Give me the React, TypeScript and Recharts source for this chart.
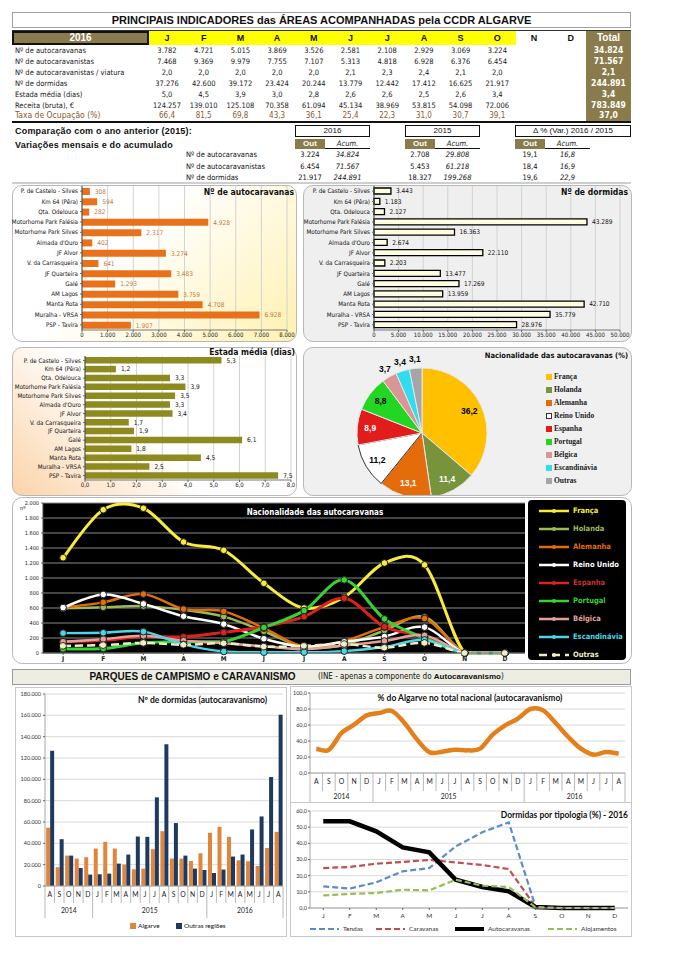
import React from 'react';
import {
  BarChart,
  Bar,
  XAxis,
  YAxis,
  CartesianGrid,
  LabelList,
  PieChart,
  Pie,
  Cell,
  LineChart,
  Line,
} from 'recharts';

// ---------- quadro principal 2016 ----------
const tableMonths = ['J', 'F', 'M', 'A', 'M', 'J', 'J', 'A', 'S', 'O', 'N', 'D'];
const rowLabels = [
  'Nº de autocaravanas',
  'Nº de autocaravanistas',
  'Nº de autocaravanistas / viatura',
  'Nº de dormidas',
  'Estada média (dias)',
  'Receita (bruta), €',
  'Taxa de Ocupação (%)',
];
const autocaravanasMes = [3782, 4721, 5015, 3869, 3526, 2581, 2108, 2929, 3069, 3224];
const autocaravanistasMes = [7468, 9369, 9979, 7755, 7107, 5313, 4818, 6928, 6376, 6454];
const porViaturaMes = [2.0, 2.0, 2.0, 2.0, 2.0, 2.1, 2.3, 2.4, 2.1, 2.0];
const dormidasMes = [37276, 42600, 39172, 23424, 20244, 13779, 12442, 17412, 16625, 21917];
const estadaMes = [5.0, 4.5, 3.9, 3.0, 2.8, 2.6, 2.6, 2.5, 2.6, 3.4];
const receitaMes = [124257, 139010, 125108, 70358, 61094, 45134, 38969, 53815, 54098, 72006];
const taxaMes = [66.4, 81.5, 69.8, 43.3, 36.1, 25.4, 22.3, 31.0, 30.7, 39.1];
const totais = [34824, 71567, 2.1, 244891, 3.4, 783849, 37.0];

// ---------- comparação 2015 ----------
const compLabels = ['Nº de autocaravanas', 'Nº de autocaravanistas', 'Nº de dormidas'];
const out2016 = [3224, 6454, 21917];
const acum2016 = [34824, 71567, 244891];
const out2015 = [2708, 5453, 18327];
const acum2015 = [29808, 61218, 199268];
const varOut = [19.1, 18.4, 19.6];
const varAcum = [16.8, 16.9, 22.9];

// ---------- áreas ----------
const sites = [
  'P. de Castelo - Silves',
  'Km 64 (Pêra)',
  'Qta. Odelouca',
  'Motorhome Park Falésia',
  'Motorhome Park Silves',
  "Almada d'Ouro",
  'JF Alvor',
  'V. da Carrasqueira',
  'JF Quarteira',
  'Galé',
  'AM Lagos',
  'Manta Rota',
  'Muralha - VRSA',
  'PSP - Tavira',
];
const siteAutocaravanas = [308, 594, 282, 4928, 2317, 402, 3274, 641, 3483, 1293, 3759, 4708, 6928, 1907];
const siteDormidas = [3443, 1183, 2127, 43289, 16363, 2674, 22110, 2203, 13477, 17269, 13959, 42710, 35779, 28976];
const siteEstada = [5.3, 1.2, 3.3, 3.9, 3.5, 3.3, 3.4, 1.7, 1.9, 6.1, 1.8, 4.5, 2.5, 7.5];
const ticksAuto = [0, 1000, 2000, 3000, 4000, 5000, 6000, 7000, 8000];
const ticksDorm = [0, 5000, 10000, 15000, 20000, 25000, 30000, 35000, 40000, 45000, 50000];
const ticksEstada = [0, 1, 2, 3, 4, 5, 6, 7, 8];

// ---------- nacionalidades ----------
const nacoes = ['França', 'Holanda', 'Alemanha', 'Reino Unido', 'Espanha', 'Portugal', 'Bélgica', 'Escandinávia', 'Outras'];
const nacoesPct = [36.2, 11.4, 13.1, 11.2, 8.9, 8.8, 3.7, 3.4, 3.1];
const pieColors = ['#FFC000', '#77933C', '#E46C0A', '#FFFFFF', '#E21B1B', '#22D622', '#D99694', '#2FDDEE', '#A5A5A5'];
const pieLabelColors = ['#000', '#fff', '#fff', '#000', '#fff', '#000', '#000', '#000', '#000'];

const francaMes = [1270, 1910, 1930, 1480, 1370, 930, 600, 745, 1200, 1175, 0, 0];
const holandaMes = [595, 610, 625, 575, 485, 290, 80, 110, 300, 480, 0, 0];
const alemanhaMes = [605, 675, 785, 585, 555, 330, 85, 160, 345, 460, 0, 0];
const reinoUnidoMes = [605, 780, 655, 490, 385, 190, 85, 150, 220, 345, 0, 0];
const espanhaMes = [150, 170, 220, 215, 275, 350, 485, 730, 350, 220, 0, 0];
const portugalMes = [55, 60, 135, 150, 150, 340, 565, 975, 455, 200, 0, 0];
const belgicaMes = [150, 185, 230, 165, 130, 90, 50, 100, 160, 235, 0, 0];
const escandinaviaMes = [265, 270, 285, 115, 20, 10, 10, 25, 80, 175, 0, 0];
const outrasMes = [95, 105, 135, 110, 130, 85, 95, 120, 70, 135, 0, 0];
const nacoesMes = [francaMes, holandaMes, alemanhaMes, reinoUnidoMes, espanhaMes, portugalMes, belgicaMes, escandinaviaMes, outrasMes];
const lineColors = ['#F7EC3B', '#9BBB59', '#E46C0A', '#FFFFFF', '#E3211C', '#35D335', '#E6A09C', '#4BD7E6', '#F2EDC4'];
const legendTextColors = ['#F7EC3B', '#9BBB59', '#E46C0A', '#FFFFFF', '#C8302B', '#35D335', '#E6A09C', '#4BD7E6', '#F2EDC4'];
const ticksNacoes = [0, 200, 400, 600, 800, 1000, 1200, 1400, 1600, 1800, 2000];

// ---------- INE parques de campismo ----------
const periodMonths = ['A', 'S', 'O', 'N', 'D', 'J', 'F', 'M', 'A', 'M', 'J', 'J', 'A', 'S', 'O', 'N', 'D', 'J', 'F', 'M', 'A', 'M', 'J', 'J', 'A'];
const periodYears = [
  '2014', '2014', '2014', '2014', '2014',
  '2015', '2015', '2015', '2015', '2015', '2015', '2015', '2015', '2015', '2015', '2015', '2015',
  '2016', '2016', '2016', '2016', '2016', '2016', '2016', '2016',
];
const dormidasAlgarve = [54600, 17600, 28500, 25700, 27000, 35100, 41400, 35100, 20100, 15700, 16300, 34500, 51400, 25700, 25700, 23500, 30700, 49900, 55500, 46100, 24100, 23200, 18800, 35700, 50800];
const dormidasOutras = [126700, 43900, 28500, 16900, 10700, 11000, 11600, 21000, 29500, 46400, 46100, 83100, 133000, 59000, 28500, 16300, 15000, 12200, 15400, 27600, 29500, 53000, 65200, 102200, 160600];
const pctAlgarve = [30.4, 29.0, 50.0, 60.4, 72.0, 75.0, 77.5, 62.5, 41.7, 25.8, 26.7, 29.0, 28.3, 30.4, 48.0, 59.6, 68.0, 80.0, 78.3, 62.5, 45.0, 30.4, 23.0, 26.2, 24.2];
const ticksDormINE = [0, 20000, 40000, 60000, 80000, 100000, 120000, 140000, 160000, 180000];
const ticksPct = [0, 20, 40, 60, 80, 100];

// ---------- tipologia 2016 ----------
const tendas = [13.4, 12.0, 15.9, 22.7, 24.7, 38.1, 46.8, 53.0, 1.4, 0, 0, 0];
const caravanas = [24.7, 25.4, 27.4, 28.5, 29.7, 28.2, 26.6, 24.1, 1.0, 0, 0, 0];
const autocaravanasTip = [53.6, 53.6, 47.4, 37.5, 34.4, 17.5, 13.0, 10.3, 0.6, 0, 0, 0];
const alojamentos = [7.8, 8.7, 9.3, 11.3, 10.9, 17.5, 13.8, 13.0, 0.6, 0, 0, 0];
const ticksTip = [0, 10, 20, 30, 40, 50, 60];

const NARROW = "'Liberation Sans Narrow','DejaVu Sans Condensed',Arial,sans-serif";
const SANS = "'Liberation Sans',Arial,sans-serif";
const CAL = "Lato,'Open Sans',sans-serif";
const SERIF = "'Liberation Serif','DejaVu Serif',serif";
const OLIVE = '#8a7b4c';

const th = (n: number) => Math.round(n).toString().replace(/\B(?=(\d{3})+(?!\d))/g, '.');
const dec = (n: number) => Number(n).toFixed(1).replace('.', ',');

// curva suavizada tipo Excel (bezier com 1/6 dos vizinhos); troços planos ficam retos
function excelSmooth(context: any) {
  let pts: number[][] = [];
  return {
    areaStart() {},
    areaEnd() {},
    lineStart() {
      pts = [];
    },
    point(x: number, y: number) {
      pts.push([+x, +y]);
    },
    lineEnd() {
      if (!pts.length) return;
      context.moveTo(pts[0][0], pts[0][1]);
      for (let i = 0; i < pts.length - 1; i++) {
        const p0 = pts[i - 1] || pts[i];
        const p1 = pts[i];
        const p2 = pts[i + 1];
        const p3 = pts[i + 2] || p2;
        if (Math.abs(p1[1] - p2[1]) < 0.01) {
          context.lineTo(p2[0], p2[1]);
          continue;
        }
        context.bezierCurveTo(
          p1[0] + (p2[0] - p0[0]) / 6,
          p1[1] + (p2[1] - p0[1]) / 6,
          p2[0] - (p3[0] - p1[0]) / 6,
          p2[1] - (p3[1] - p1[1]) / 6,
          p2[0],
          p2[1]
        );
      }
    },
  };
}

const abs = (left: number, top: number, width: number, height: number): React.CSSProperties => ({
  position: 'absolute',
  left,
  top,
  width,
  height,
  boxSizing: 'border-box',
});

const colCenter = (i: number) => 167 + i * 36.7;

function MainTable() {
  const rows = [autocaravanasMes, autocaravanistasMes, porViaturaMes, dormidasMes, estadaMes, receitaMes, taxaMes];
  const isDec = [false, false, true, false, true, false, true];
  return (
    <>
      <div style={{ ...abs(12, 12, 619, 16), border: '1px solid #a0a0a0', textAlign: 'center', font: `bold 11px ${SANS}`, lineHeight: '14px' }}>
        PRINCIPAIS INDICADORES das ÁREAS ACOMPANHADAS pela CCDR ALGARVE
      </div>
      <div style={{ ...abs(12, 30, 619, 1), background: '#333' }} />
      <div style={{ ...abs(12, 31, 137, 14), background: OLIVE, border: '2px solid #111', color: '#fff', textAlign: 'center', font: `bold 10px ${SANS}`, lineHeight: '10px' }}>
        2016
      </div>
      <div style={{ ...abs(149, 31, 367, 14), background: '#FFFF00' }} />
      {tableMonths.map((m, i) => (
        <div key={'h' + i} style={{ ...abs(colCenter(i) - 15, 31, 30, 14), textAlign: 'center', font: `bold 9px ${SANS}`, lineHeight: '14px' }}>
          {m}
        </div>
      ))}
      <div style={{ ...abs(586, 31, 45, 14), background: OLIVE, color: '#fff', textAlign: 'center', font: `bold 10px ${SANS}`, lineHeight: '14px' }}>
        Total
      </div>
      <div style={{ ...abs(586, 45, 45, 76), background: OLIVE }} />
      {rowLabels.map((lab, r) => {
        const top = 45 + r * 10.9;
        const color = r === 6 ? '#8B5A2B' : '#1a1a1a';
        return (
          <React.Fragment key={'r' + r}>
            <div style={{ ...abs(15, top, 150, 11), font: `${r === 6 ? 8.5 : 7.5}px ${NARROW}`, lineHeight: '11px', color, whiteSpace: 'nowrap' }}>{lab}</div>
            {rows[r].map((v, i) => (
              <div key={i} style={{ ...abs(colCenter(i) - 18, top, 36, 11), textAlign: 'center', font: `${r === 6 ? 8 : 7.5}px ${NARROW}`, lineHeight: '11px', color }}>
                {isDec[r] ? dec(v) : th(v)}
              </div>
            ))}
            <div style={{ ...abs(586, top, 45, 11), textAlign: 'center', color: '#fff', font: `bold 8.5px ${NARROW}`, lineHeight: '11px' }}>
              {isDec[r] ? dec(totais[r]) : th(totais[r])}
            </div>
          </React.Fragment>
        );
      })}
      <div style={{ ...abs(12, 121, 619, 2), background: '#111' }} />
    </>
  );
}

function CompBlock({ left, title, w, outs, acums, fmt }: any) {
  return (
    <>
      <div style={{ ...abs(left, 125, w, 12), border: '1px solid #111', textAlign: 'center', font: `8px ${SANS}`, lineHeight: '10px', background: '#fff' }}>{title}</div>
      <div style={{ ...abs(left, 139, 30, 10), background: OLIVE, color: '#fff', textAlign: 'center', font: `bold 8px ${SANS}`, lineHeight: '10px' }}>Out</div>
      <div style={{ ...abs(left + 30, 139, 45, 10), borderBottom: '1px solid #111', textAlign: 'center', font: `italic 7.5px ${NARROW}`, lineHeight: '10px' }}>Acum.</div>
      {outs.map((v: number, i: number) => (
        <React.Fragment key={i}>
          <div style={{ ...abs(left, 149 + i * 11.5, 30, 11), textAlign: 'center', font: `7.5px ${NARROW}`, lineHeight: '11px' }}>{fmt(v)}</div>
          <div style={{ ...abs(left + 30, 149 + i * 11.5, 45, 11), textAlign: 'center', font: `italic 7.5px ${NARROW}`, lineHeight: '11px' }}>{fmt(acums[i])}</div>
        </React.Fragment>
      ))}
    </>
  );
}

function Comparison() {
  return (
    <>
      <div style={{ ...abs(15, 125, 280, 13), font: `900 9px ${SANS}`, lineHeight: '13px', letterSpacing: 0.2 }}>Comparação com o ano anterior (2015):</div>
      <div style={{ ...abs(15, 139, 280, 13), font: `900 9px ${SANS}`, lineHeight: '13px', letterSpacing: 0.2 }}>Variações mensais e do acumulado</div>
      {compLabels.map((l, i) => (
        <div key={l} style={{ ...abs(186, 149 + i * 11.5, 110, 11), font: `7.5px ${NARROW}`, lineHeight: '11px', whiteSpace: 'nowrap' }}>{l}</div>
      ))}
      <CompBlock left={295} w={75} title="2016" outs={out2016} acums={acum2016} fmt={th} />
      <CompBlock left={405} w={75} title="2015" outs={out2015} acums={acum2015} fmt={th} />
      <CompBlock left={515} w={116} title="Δ % (Var.) 2016 / 2015" outs={varOut} acums={varAcum} fmt={dec} />
      <div style={{ ...abs(12, 182, 619, 2), background: '#cfcfcf' }} />
    </>
  );
}

const siteTick = (p: any) => (
  <text x={p.x} y={p.y} dy={2.2} textAnchor="end" fontSize={6.2} fontFamily={NARROW} fill="#111">
    {p.payload.value}
  </text>
);

function HBar({ values, ticks, fmt, tickFmt, fill, stroke, labelColor, barSize, w, h, yw, margin }: any) {
  const data = sites.map((s, i) => ({ site: s, v: values[i] }));
  return (
    <BarChart width={w} height={h} layout="vertical" data={data} margin={margin} barCategoryGap={2}>
      <CartesianGrid horizontal={false} stroke="#d2d2d2" />
      <XAxis
        type="number"
        domain={[ticks[0], ticks[ticks.length - 1]]}
        ticks={ticks}
        interval={0}
        tickFormatter={tickFmt}
        tick={{ fontSize: 6, fontFamily: NARROW, fill: '#222' }}
        height={12}
        tickSize={2}
        tickMargin={1}
        axisLine={{ stroke: '#777' }}
      />
      <YAxis type="category" dataKey="site" width={yw} tick={siteTick} interval={0} tickSize={2} tickMargin={2} axisLine={{ stroke: '#444' }} />
      <Bar dataKey="v" fill={fill} stroke={stroke} strokeWidth={stroke ? 1.3 : 0} barSize={barSize} isAnimationActive={false}>
        <LabelList dataKey="v" position="right" offset={5} formatter={(v: any) => fmt(Number(v))} fontSize={6.5} fontFamily={NARROW} fill={labelColor} />
      </Bar>
    </BarChart>
  );
}

const RAD = Math.PI / 180;
const pieLabel = (p: any) => {
  const small = p.value < 5;
  const r = small ? p.outerRadius + 9 : p.outerRadius * 0.8;
  const x = p.cx + r * Math.cos(-p.midAngle * RAD);
  const y = p.cy + r * Math.sin(-p.midAngle * RAD);
  return (
    <text x={x} y={y} fill={pieLabelColors[p.index]} textAnchor="middle" dominantBaseline="central" fontSize={8.5} fontWeight="bold" fontFamily={SANS}>
      {dec(p.value)}
    </text>
  );
};

function NacoesLegend() {
  return (
    <div style={{ ...abs(528, 500, 98, 160), background: '#000', borderRadius: 4 }}>
      {nacoes.map((n, i) => (
        <div key={n} style={{ ...abs(10, 5 + i * 18, 90, 12) }}>
          <svg width={32} height={12} style={{ position: 'absolute', left: 0, top: 0 }}>
            <line x1={1} x2={31} y1={6} y2={6} stroke={lineColors[i]} strokeWidth={2.5} strokeDasharray={i === 8 ? '8 5' : undefined} />
            <circle cx={16} cy={6} r={2} fill={lineColors[i]} />
          </svg>
          <div style={{ ...abs(35, 0, 60, 12), color: legendTextColors[i], font: `bold 7.5px ${NARROW}`, lineHeight: '12px', whiteSpace: 'nowrap' }}>{n}</div>
        </div>
      ))}
    </div>
  );
}

function makePeriodTick(band: number, rowH: number, yearH: number, fs: number) {
  return (props: any) => {
    const { x, y, payload } = props;
    const i: number = Number(payload.value);
    const yr = periodYears[i];
    const isStart = i === 0 || periodYears[i - 1] !== yr;
    const isEnd = i === periodYears.length - 1;
    const count = periodYears.filter((v) => v === yr).length;
    const left = x - band / 2;
    return (
      <g>
        <line x1={left} x2={left} y1={y} y2={y + rowH + (isStart ? yearH : 0)} stroke="#a6a6a6" strokeWidth={0.8} />
        {isEnd && <line x1={x + band / 2} x2={x + band / 2} y1={y} y2={y + rowH + yearH} stroke="#a6a6a6" strokeWidth={0.8} />}
        <text x={x} y={y + rowH / 2 + fs * 0.36} textAnchor="middle" fontSize={fs} fontFamily={CAL} fill="#222">
          {periodMonths[i]}
        </text>
        {isStart && (
          <text x={left + (count * band) / 2} y={y + rowH + yearH / 2 + fs * 0.36} textAnchor="middle" fontSize={fs} fontFamily={CAL} fill="#222">
            {yr}
          </text>
        )}
      </g>
    );
  };
}

export default function App() {
  const nacoesData = tableMonths.map((m, i) => {
    const row: any = { i };
    nacoes.forEach((n, k) => {
      row[n] = nacoesMes[k][i];
    });
    return row;
  });
  const pieData = nacoes.map((n, i) => ({ name: n, value: nacoesPct[i] }));
  const ineData = periodMonths.map((m, i) => ({ i, algarve: dormidasAlgarve[i], outras: dormidasOutras[i], pct: pctAlgarve[i] }));
  const tipData = tableMonths.map((m, i) => ({ i, tendas: tendas[i], caravanas: caravanas[i], auto: autocaravanasTip[i], aloj: alojamentos[i] }));

  const fBand = (283 - 45) / periodMonths.length;
  const gBand = (625 - 310) / periodMonths.length;
  const eBand = (525 - 43) / tableMonths.length;
  const hBand = (628 - 310) / tableMonths.length;

  return (
    <div style={{ position: 'absolute', left: 0, top: 0, width: 677, height: 958, background: '#fff', overflow: 'hidden', fontFamily: SANS, color: '#111' }}>
      <MainTable />
      <Comparison />

      {/* Nº de autocaravanas */}
      <div style={{ ...abs(12, 185, 285, 157), border: '1px solid #b8b8b8', borderRadius: 10, background: 'linear-gradient(135deg,#ffffff 40%,#fff1b0 100%)' }} />
      <div style={abs(12, 184, 285, 158)}>
        <HBar values={siteAutocaravanas} ticks={ticksAuto} fmt={th} tickFmt={th} fill="#E8721C" labelColor="#c4793f" barSize={7} w={285} h={158} yw={70} margin={{ top: 2, right: 10, left: 0, bottom: 0 }} />
      </div>
      <div style={{ ...abs(190, 187, 104, 11), textAlign: 'right', font: `bold 8.5px ${NARROW}`, lineHeight: '11px' }}>Nº de autocaravanas</div>

      {/* Nº de dormidas */}
      <div style={{ ...abs(303, 185, 329, 157), border: '1px solid #b8b8b8', borderRadius: 10, background: '#efefef' }} />
      <div style={abs(303, 184, 329, 158)}>
        <HBar values={siteDormidas} ticks={ticksDorm} fmt={th} tickFmt={th} fill="#FFFDE0" stroke="#000" labelColor="#111" barSize={6} w={329} h={158} yw={71} margin={{ top: 2, right: 12, left: 0, bottom: 0 }} />
      </div>
      <div style={{ ...abs(520, 187, 108, 11), textAlign: 'right', font: `bold 8.5px ${NARROW}`, lineHeight: '11px' }}>Nº de dormidas</div>

      {/* Estada média */}
      <div style={{ ...abs(12, 347, 285, 149), border: '1px solid #b8b8b8', borderRadius: 10, background: 'linear-gradient(45deg,#fbd3a8 0%,#ffffff 45%)' }} />
      <div style={abs(12, 348, 285, 144)}>
        <HBar values={siteEstada} ticks={ticksEstada} fmt={dec} tickFmt={dec} fill="#8d8a1f" labelColor="#111" barSize={6.5} w={285} h={144} yw={73} margin={{ top: 8, right: 6, left: 0, bottom: 0 }} />
      </div>
      <div style={{ ...abs(200, 347, 95, 10), textAlign: 'right', font: `bold 8.5px ${NARROW}`, lineHeight: '10px' }}>Estada média (dias)</div>

      {/* Nacionalidade (%) */}
      <div style={{ ...abs(303, 347, 329, 149), border: '1px solid #b8b8b8', borderRadius: 10, background: '#f0f0f0' }} />
      <div style={abs(303, 347, 329, 148)}>
        <PieChart width={329} height={148}>
          <Pie data={pieData} dataKey="value" cx={114} cy={81} outerRadius={65} startAngle={90} endAngle={-270} label={pieLabel} labelLine={false} isAnimationActive={false}>
            {pieData.map((d, i) => (
              <Cell key={d.name} fill={pieColors[i]} stroke={i === 3 ? '#333' : '#e8e8e8'} strokeWidth={1} />
            ))}
          </Pie>
        </PieChart>
      </div>
      <div style={{ ...abs(470, 350, 158, 11), textAlign: 'right', font: `bold 7.5px ${NARROW}`, lineHeight: '11px' }}>Nacionalidade das autocaravanas (%)</div>
      {nacoes.map((n, i) => (
        <div key={n} style={{ ...abs(546, 371 + i * 13, 80, 12) }}>
          <div style={{ ...abs(0, 3, 6, 6), background: pieColors[i], border: i === 3 ? '1px solid #333' : 'none' }} />
          <div style={{ ...abs(8, 0, 72, 12), font: `bold 7.5px ${SERIF}`, lineHeight: '12px', color: '#222' }}>{n}</div>
        </div>
      ))}

      {/* Nacionalidade das autocaravanas - linhas */}
      <div style={{ ...abs(12, 497, 620, 167), border: '1px solid #b8b8b8', borderRadius: 10, background: '#fff' }} />
      <div style={abs(12, 497, 516, 166)}>
        <LineChart width={516} height={166} data={nacoesData} margin={{ top: 6, right: 3, left: 0, bottom: 0 }}>
          <CartesianGrid vertical={false} stroke="#8a8a8a" fill="#000" fillOpacity={1} />
          <XAxis dataKey="i" type="category" interval={0} padding={{ left: eBand / 2, right: eBand / 2 }} tickFormatter={(v: any) => tableMonths[v]} tick={{ fontSize: 6.5, fontFamily: NARROW, fontWeight: 'bold', fill: '#222' }} height={10} tickSize={2} tickMargin={1} axisLine={{ stroke: '#444' }} />
          <YAxis domain={[0, 2000]} ticks={ticksNacoes} interval={0} tickFormatter={th} tick={{ fontSize: 5.5, fontFamily: NARROW, fill: '#222' }} width={31} tickSize={2} tickMargin={2} axisLine={{ stroke: '#444' }} />
          {nacoes.map((n, k) => (
            <Line
              key={n}
              dataKey={n}
              type={excelSmooth as any}
              stroke={lineColors[k]}
              strokeWidth={k === 0 || k === 5 || k === 4 ? 3 : 2.5}
              strokeDasharray={k === 8 ? '8 4' : undefined}
              dot={{ r: 3.3, fill: lineColors[k], stroke: '#222', strokeWidth: 1 }}
              activeDot={false}
              isAnimationActive={false}
            />
          ))}
        </LineChart>
      </div>
      <div style={{ ...abs(20, 504, 12, 8), font: `5.5px ${NARROW}`, lineHeight: '8px' }}>nº</div>
      <div style={{ ...abs(230, 507, 170, 12), textAlign: 'center', color: '#fff', font: `bold 8px ${NARROW}`, lineHeight: '12px' }}>Nacionalidade das autocaravanas</div>
      <NacoesLegend />

      {/* Parques de campismo */}
      <div style={{ ...abs(12, 669, 619, 16), background: '#eeede3', border: '1px solid #9a9a9a' }} />
      <div style={{ ...abs(70, 669, 245, 16), textAlign: 'center', font: `900 10px ${SANS}`, lineHeight: '16px' }}>PARQUES de CAMPISMO e CARAVANISMO</div>
      <div style={{ ...abs(318, 669, 260, 16), font: `8px ${NARROW}`, lineHeight: '16px', whiteSpace: 'nowrap' }}>
        (INE - apenas a componente do <span style={{ fontFamily: SANS, fontWeight: 900 }}>Autocaravanismo</span>)
      </div>

      {/* Nº de dormidas (autocaravanismo) */}
      <div style={{ ...abs(15, 687, 272, 250), border: '1px solid #c8c8c8', background: '#fff' }} />
      <div style={abs(12, 687, 275, 231)}>
        <BarChart width={275} height={231} data={ineData} margin={{ top: 7, right: 4, left: 0, bottom: 0 }} barCategoryGap="12%" barGap={0}>
          <CartesianGrid vertical={false} stroke="#d9d9d9" />
          <XAxis dataKey="i" type="category" interval={0} tick={makePeriodTick(fBand, 17, 15, 6.8)} tickLine={false} tickSize={0} tickMargin={0} height={32} axisLine={{ stroke: '#a6a6a6' }} />
          <YAxis domain={[0, 180000]} ticks={ticksDormINE} interval={0} tickFormatter={th} tick={{ fontSize: 5.5, fontFamily: CAL, fill: '#333' }} width={33} tickSize={2} tickMargin={2} axisLine={{ stroke: '#a6a6a6' }} />
          <Bar dataKey="algarve" fill="#E0853A" isAnimationActive={false} />
          <Bar dataKey="outras" fill="#1F3A60" isAnimationActive={false} />
        </BarChart>
      </div>
      <div style={{ ...abs(120, 694, 165, 12), textAlign: 'center', font: `bold 8.5px ${CAL}`, lineHeight: '12px' }}>Nº de dormidas (autocaravanismo)</div>
      <div style={{ ...abs(130, 923, 6, 6), background: '#E0853A' }} />
      <div style={{ ...abs(138, 920, 40, 11), font: `6.5px ${CAL}`, lineHeight: '11px' }}>Algarve</div>
      <div style={{ ...abs(176, 923, 6, 6), background: '#1F3A60' }} />
      <div style={{ ...abs(184, 920, 60, 11), font: `6.5px ${CAL}`, lineHeight: '11px' }}>Outras regiões</div>

      {/* % do Algarve */}
      <div style={{ ...abs(290, 686, 342, 117), border: '1px solid #c8c8c8', background: '#fff' }} />
      <div style={abs(290, 686, 342, 116)}>
        <LineChart width={342} height={116} data={ineData} margin={{ top: 7, right: 7, left: 0, bottom: 0 }}>
          <CartesianGrid vertical={false} stroke="#d9d9d9" />
          <XAxis dataKey="i" type="category" interval={0} padding={{ left: gBand / 2, right: gBand / 2 }} tick={makePeriodTick(gBand, 18, 11, 6.8)} tickLine={false} tickSize={0} tickMargin={0} height={29} axisLine={{ stroke: '#a6a6a6' }} />
          <YAxis domain={[0, 100]} ticks={ticksPct} interval={0} tickFormatter={dec} tick={{ fontSize: 5.5, fontFamily: CAL, fill: '#333' }} width={20} tickSize={2} tickMargin={1} axisLine={{ stroke: '#a6a6a6' }} />
          <Line dataKey="pct" type={excelSmooth as any} stroke="#E3801C" strokeWidth={4.5} dot={false} activeDot={false} isAnimationActive={false} />
        </LineChart>
      </div>
      <div style={{ ...abs(360, 692, 220, 12), textAlign: 'center', font: `bold 8.5px ${CAL}`, lineHeight: '12px' }}>% do Algarve no total nacional (autocaravanismo)</div>

      {/* Dormidas por tipologia */}
      <div style={{ ...abs(290, 802, 342, 135), border: '1px solid #c8c8c8', background: '#fff' }} />
      <div style={abs(290, 802, 342, 120)}>
        <LineChart width={342} height={120} data={tipData} margin={{ top: 9, right: 4, left: 0, bottom: 0 }}>
          <CartesianGrid vertical={false} stroke="#d9d9d9" />
          <XAxis dataKey="i" type="category" interval={0} padding={{ left: hBand / 2, right: hBand / 2 }} tickFormatter={(v: any) => tableMonths[v]} tick={{ fontSize: 6.5, fontFamily: CAL, fill: '#333' }} height={14} tickSize={2} tickMargin={3} axisLine={{ stroke: '#a6a6a6' }} />
          <YAxis domain={[0, 60]} ticks={ticksTip} interval={0} tickFormatter={dec} tick={{ fontSize: 5.5, fontFamily: CAL, fill: '#333' }} width={20} tickSize={2} tickMargin={1} axisLine={{ stroke: '#a6a6a6' }} />
          <Line dataKey="tendas" type="linear" stroke="#5B8CC8" strokeWidth={2.2} strokeDasharray="6 3" dot={false} activeDot={false} isAnimationActive={false} />
          <Line dataKey="caravanas" type="linear" stroke="#C0504D" strokeWidth={2.2} strokeDasharray="6 3" dot={false} activeDot={false} isAnimationActive={false} />
          <Line dataKey="auto" type="linear" stroke="#000" strokeWidth={4.5} dot={false} activeDot={false} isAnimationActive={false} />
          <Line dataKey="aloj" type="linear" stroke="#9BBB59" strokeWidth={2.2} strokeDasharray="6 3" dot={false} activeDot={false} isAnimationActive={false} />
        </LineChart>
      </div>
      <div style={{ ...abs(470, 809, 158, 12), textAlign: 'right', font: `bold 8.5px ${CAL}`, lineHeight: '12px' }}>Dormidas por tipologia (%) - 2016</div>
      {[
        { t: 'Tendas', c: '#5B8CC8', d: '6 3', w: 2.2, x: 310 },
        { t: 'Caravanas', c: '#C0504D', d: '6 3', w: 2.2, x: 376 },
        { t: 'Autocaravanas', c: '#000', d: undefined, w: 4, x: 455 },
        { t: 'Alojamentos', c: '#9BBB59', d: '6 3', w: 2.2, x: 548 },
      ].map((l) => (
        <div key={l.t} style={{ ...abs(l.x, 923, 90, 12) }}>
          <svg width={30} height={12} style={{ position: 'absolute', left: 0, top: 0 }}>
            <line x1={0} x2={29} y1={6} y2={6} stroke={l.c} strokeWidth={l.w} strokeDasharray={l.d} />
          </svg>
          <div style={{ ...abs(33, 0, 60, 12), font: `6.5px ${CAL}`, lineHeight: '12px', color: '#333' }}>{l.t}</div>
        </div>
      ))}
    </div>
  );
}
